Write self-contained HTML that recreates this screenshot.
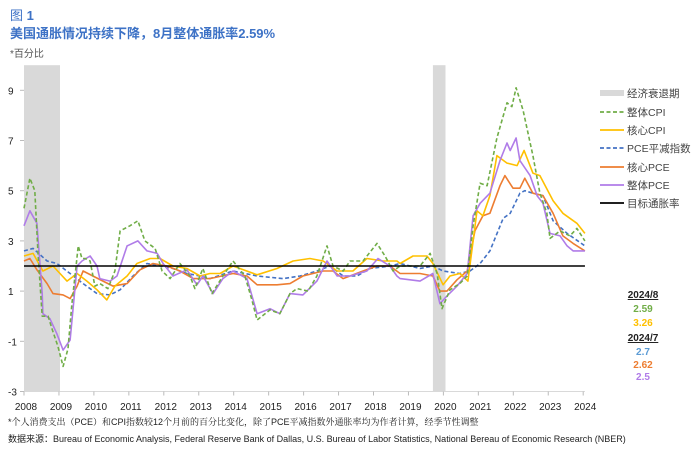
<!DOCTYPE html>
<html><head><meta charset="utf-8"><style>
body{margin:0;background:#fff;width:700px;height:456px;overflow:hidden;font-family:"Liberation Sans","Noto Sans CJK SC",sans-serif}
</style></head><body>
<svg width="700" height="456" viewBox="0 0 700 456" style="font-family:'Liberation Sans','Noto Sans CJK SC',sans-serif">
<text x="10" y="20" fill="#3d72c6" font-size="13">图 <tspan font-weight="bold">1</tspan></text>
<text x="10" y="38" fill="#3d72c6" font-size="13" font-weight="bold">美国通胀情况持续下降，8月整体通胀率2.59%</text>
<text x="10" y="57" fill="#555" font-size="10">*百分比</text>
<g id="plot"></g>
<g font-size="10.5" fill="#444">
<rect x="600" y="90" width="24" height="6" fill="#d9d9d9"/>
<text x="627" y="97">经济衰退期</text>
<line x1="600" y1="112" x2="624" y2="112" stroke="#70ad47" stroke-width="1.8" stroke-dasharray="4,2.5"/>
<text x="627" y="116">整体CPI</text>
<line x1="600" y1="130" x2="624" y2="130" stroke="#ffc000" stroke-width="1.8"/>
<text x="627" y="134">核心CPI</text>
<line x1="600" y1="148" x2="624" y2="148" stroke="#4472c4" stroke-width="1.8" stroke-dasharray="4,2.5"/>
<text x="627" y="152">PCE平减指数</text>
<line x1="600" y1="167" x2="624" y2="167" stroke="#ed7d31" stroke-width="1.8"/>
<text x="627" y="171">核心PCE</text>
<line x1="600" y1="185" x2="624" y2="185" stroke="#b07ce8" stroke-width="1.8"/>
<text x="627" y="189">整体PCE</text>
<line x1="600" y1="203" x2="624" y2="203" stroke="#000" stroke-width="1.8"/>
<text x="627" y="207">目标通胀率</text>
</g>
<g font-size="10" font-weight="bold" text-anchor="middle">
<text x="643" y="298" fill="#222" text-decoration="underline">2024/8</text>
<text x="643" y="312" fill="#70ad47">2.59</text>
<text x="643" y="326" fill="#ffc000">3.26</text>
<text x="643" y="341" fill="#222" text-decoration="underline">2024/7</text>
<text x="643" y="355" fill="#5b9bd5">2.7</text>
<text x="643" y="368" fill="#ed7d31">2.62</text>
<text x="643" y="380" fill="#b07ce8">2.5</text>
</g>
<text x="8" y="425" font-size="9" fill="#222" style="font-family:'Liberation Sans','Noto Serif CJK SC',serif">*个人消费支出（PCE）和CPI指数较12个月前的百分比变化，除了PCE平减指数外通胀率均为作者计算，经季节性调整</text>
<text x="8" y="442" font-size="9" fill="#222">数据来源：Bureau of Economic Analysis, Federal Reserve Bank of Dallas, U.S. Bureau of Labor Statistics, National Bereau of Economic Research (NBER)</text>
</svg>
<script>
const yTicks=[9,7,5,3,1,-1,-3];
const yearLabels=[2008,2009,2010,2011,2012,2013,2014,2015,2016,2017,2018,2019,2020,2021,2022,2023,2024];
const recessionStarts=[2008.0,2019.7];
const recessionEnds=[2009.03,2020.06];
const target=[2];
const cpiDates=[0,.17,.31,.40,.52,.69,.80,.97,1.12,1.26,1.37,1.49,1.55,1.66,1.75,1.89,2.03,2.17,2.40,2.60,2.75,3.03,3.26,3.46,3.75,3.95,4.18,4.46,4.75,4.89,5.12,5.38,5.69,5.98,6.32,6.52,6.67,7.04,7.32,7.61,7.81,8.13,8.38,8.67,8.84,9.13,9.33,9.70,10.10,10.33,10.56,10.76,11.33,11.62,11.82,11.96,12.19,12.47,12.68,12.85,13.05,13.25,13.53,13.82,13.96,14.08,14.28,14.56,14.76,14.96,15.05,15.34,15.62,15.82,16.05];
const cpiValues=[4.3,5.5,5.0,2.5,0.0,0.0,-0.5,-1.2,-2.0,-1.3,0.5,2.0,2.8,2.3,2.3,2.2,1.2,1.3,1.1,1.8,3.4,3.6,3.8,3.0,2.7,1.8,1.5,2.1,1.6,1.1,1.9,0.9,1.6,2.2,1.6,0.65,-0.15,0.25,0.1,0.9,1.1,1.0,1.6,2.8,2.0,1.8,2.2,2.2,2.9,2.4,1.8,2.0,2.0,2.5,1.7,0.3,1.05,1.3,1.6,3.6,5.3,5.2,7.1,8.5,8.35,9.1,8.2,6.4,4.9,4.1,3.1,3.4,3.2,3.5,3.0];
const coreCpiDates=[0,.26,.54,.83,1.23,1.52,1.80,2.09,2.37,2.60,2.95,3.23,3.61,3.89,4.26,4.66,5.04,5.32,5.61,5.98,6.67,7.24,7.70,8.18,8.56,8.96,9.41,9.81,10.27,10.67,10.76,11.13,11.53,11.70,11.99,12.19,12.47,12.70,12.96,13.13,13.33,13.53,13.82,14.11,14.31,14.56,14.76,15.14,15.42,15.82,16.05];
const coreCpiValues=[2.4,2.5,1.8,2.0,1.4,1.7,1.4,1.05,0.65,1.2,1.6,2.1,2.3,2.3,2.0,1.9,1.6,1.7,1.7,2.0,1.65,1.9,2.2,2.3,2.2,1.8,1.8,2.3,2.2,2.2,2.1,2.4,2.4,2.1,1.25,1.6,1.7,1.4,4.2,4.0,4.8,6.4,6.1,6.0,6.6,5.7,5.6,4.6,4.1,3.7,3.3];
const pceDefDates=[0,.26,.66,.94,1.32,1.69,2.09,2.46,2.75,3.12,3.52,3.89,4.26,4.66,5.04,5.32,5.98,6.67,7.41,7.90,8.38,8.76,9.13,9.53,9.90,10.47,10.76,11.33,11.70,11.99,12.47,12.76,13.05,13.33,13.71,13.91,14.19,14.33,14.56,14.85,15.14,15.54,16.05];
const pceDefValues=[2.6,2.7,2.2,2.1,1.7,1.3,0.9,0.85,1.05,1.6,2.1,2.0,1.9,1.7,1.6,1.5,1.8,1.6,1.5,1.6,1.8,2.0,1.6,1.6,1.9,2.0,2.1,1.9,2.0,1.8,1.7,1.8,2.1,2.6,3.9,4.1,4.9,5.0,4.9,4.8,3.8,3.3,2.8];
const corePceDates=[0,.17,.37,.66,.83,1.12,1.32,1.52,1.69,1.97,2.26,2.55,2.95,3.32,3.69,4.09,4.46,4.84,5.32,5.98,6.38,6.67,7.24,7.61,7.98,8.56,8.84,9.13,9.70,10.10,10.47,10.76,11.33,11.70,11.90,12.10,12.39,12.68,12.90,13.13,13.33,13.62,13.76,13.99,14.19,14.33,14.56,14.85,15.14,15.42,15.71,16.05];
const corePceValues=[2.2,2.3,1.85,1.3,0.9,0.85,0.7,1.2,1.8,1.6,1.4,1.2,1.3,1.85,2.1,2.0,1.8,1.5,1.5,1.7,1.6,1.25,1.25,1.3,1.6,1.8,1.8,1.5,1.8,2.0,2.0,1.7,1.7,1.6,1.0,1.0,1.45,1.8,3.4,4.0,4.1,5.2,5.6,5.1,5.1,5.5,4.9,4.8,4.1,3.2,2.9,2.6];
const pceDates=[0,.17,.37,.52,.54,.74,.94,1.12,1.32,1.52,1.66,1.89,2.09,2.17,2.46,2.66,2.95,3.26,3.52,3.81,3.98,4.26,4.66,4.95,5.12,5.41,5.69,5.98,6.38,6.67,7.04,7.32,7.61,7.98,8.38,8.67,8.96,9.33,9.81,10.13,10.47,10.67,10.76,11.33,11.70,11.90,12.10,12.39,12.68,12.85,13.05,13.33,13.62,13.82,13.91,14.08,14.19,14.48,14.68,14.85,15.05,15.34,15.54,15.71,16.05];
const pceValues=[3.6,4.2,3.7,0.9,0.1,-0.1,-0.7,-1.35,-0.95,2.0,2.2,2.4,2.0,1.5,1.4,1.6,2.8,3.0,2.6,2.5,2.1,1.6,1.85,1.25,1.6,0.9,1.5,1.8,1.5,0.1,0.3,0.1,0.9,0.85,1.4,2.2,1.6,1.6,1.8,2.3,2.0,1.6,1.5,1.4,1.7,0.5,0.8,1.2,1.7,4.0,4.5,4.9,6.2,6.9,6.6,7.1,6.2,5.6,4.8,4.5,3.3,3.2,2.8,2.6,2.6];

const NS='http://www.w3.org/2000/svg';
const plot=document.getElementById('plot');
const X0=24,PXY=34.95,Y9=90.3,PXV=25.1;
function xs(t){return X0+(t-2008)*PXY;}
function ys(v){return Y9+(9-v)*PXV;}
function mk(tag,attrs){const e=document.createElementNS(NS,tag);for(const k in attrs)e.setAttribute(k,attrs[k]);plot.appendChild(e);return e;}
recessionStarts.forEach((s,i)=>{
  const r=mk('rect',{x:xs(s),y:ys(10),width:xs(recessionEnds[i])-xs(s),height:ys(-3)-ys(10),fill:'#d9d9d9'});
  
  
});
const ax=mk('line',{x1:X0,y1:ys(-3),x2:xs(2024.05),y2:ys(-3),stroke:'#d9d9d9','stroke-width':1});


yTicks.forEach(v=>{
  const t=mk('text',{x:8,y:ys(v)+4,'font-size':10,fill:'#222'});t.textContent=v;
  
  
  const l=mk('line',{x1:20,y1:ys(v),x2:24,y2:ys(v),stroke:'#bbb'});
  
  
});
yearLabels.forEach(y=>{
  const l=mk('line',{x1:xs(y),y1:ys(-3),x2:xs(y),y2:ys(-3)+4,stroke:'#bbb'});
  
  
  const t=mk('text',{x:xs(y)+2,y:410,'font-size':10,fill:'#222','text-anchor':'middle'});t.textContent=y;
  
  
});
function series(dates,vals,color,dash,name){
  const d=dates.map((t,i)=>(i?'L':'M')+xs(2008+t).toFixed(1)+','+ys(vals[i]).toFixed(1)).join('');
  const p=mk('path',{d:d,fill:'none',stroke:color,'stroke-width':1.6,'stroke-linejoin':'round'});
  if(dash)p.setAttribute('stroke-dasharray',dash);
  
  
}
series(pceDefDates,pceDefValues,'#4472c4','4,2.5','pce-deflator-line');
series(corePceDates,corePceValues,'#ed7d31',null,'core-pce-line');
series(coreCpiDates,coreCpiValues,'#ffc000',null,'core-cpi-line');
series(pceDates,pceValues,'#b07ce8',null,'pce-line');
series(cpiDates,cpiValues,'#70ad47','4,2.5','cpi-line');
const tl=mk('line',{x1:X0,y1:ys(target[0]),x2:xs(2024.05),y2:ys(target[0]),stroke:'#000','stroke-width':1.6});


</script>
</body></html>
